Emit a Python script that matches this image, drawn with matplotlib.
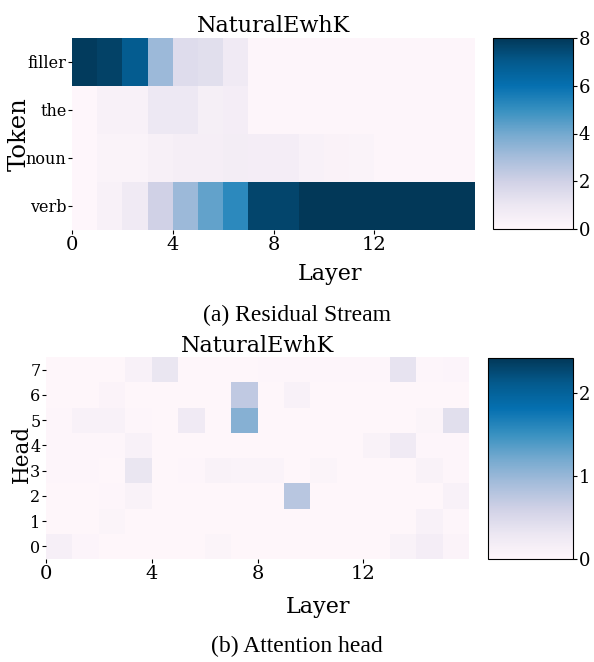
import numpy as np
import matplotlib
matplotlib.use("Agg")
import matplotlib.pyplot as plt

# ---- datos ----
capas = np.arange(17)          # bordes de las 16 capas
tokens = ["verb", "noun", "the", "filler"]   # de abajo hacia arriba
filler = [7.9, 7.7, 6.9, 3.2, 1.5, 1.4, 0.8, 0.1, 0.1, 0.1, 0.1, 0.1, 0.1, 0.1, 0.1, 0.1]
the = [0.05, 0.35, 0.35, 0.95, 0.95, 0.5, 0.6, 0.1, 0.1, 0.1, 0.1, 0.1, 0.1, 0.1, 0.1, 0.1]
noun = [0.05, 0.25, 0.25, 0.45, 0.55, 0.55, 0.65, 0.6, 0.6, 0.4, 0.3, 0.25, 0.15, 0.1, 0.1, 0.1]
verb = [0.05, 0.4, 0.8, 2.0, 3.2, 4.3, 5.2, 7.6, 7.6, 8.0, 8.0, 8.0, 8.0, 8.0, 8.0, 8.0]
residual = np.array([verb, noun, the, filler])

heads = np.arange(8)
# filas = cabeza 0..7, columnas = capa 0..15
atencion = np.array([
    [0.15, 0.05, 0.02, 0.02, 0.02, 0.02, 0.06, 0.02, 0.02, 0.02, 0.02, 0.02, 0.02, 0.1, 0.18, 0.07],
    [0.02, 0.02, 0.06, 0.02, 0.02, 0.02, 0.02, 0.02, 0.02, 0.02, 0.02, 0.02, 0.02, 0.02, 0.12, 0.03],
    [0.02, 0.02, 0.03, 0.1, 0.02, 0.02, 0.02, 0.02, 0.02, 0.78, 0.02, 0.02, 0.02, 0.02, 0.02, 0.12],
    [0.03, 0.03, 0.02, 0.33, 0.02, 0.03, 0.1, 0.08, 0.08, 0.02, 0.06, 0.02, 0.02, 0.02, 0.1, 0.03],
    [0.03, 0.03, 0.03, 0.12, 0.02, 0.02, 0.02, 0.02, 0.02, 0.02, 0.02, 0.02, 0.1, 0.25, 0.03, 0.03],
    [0.03, 0.12, 0.12, 0.03, 0.02, 0.25, 0.02, 1.1, 0.02, 0.02, 0.02, 0.02, 0.02, 0.02, 0.06, 0.42],
    [0.02, 0.02, 0.07, 0.02, 0.02, 0.02, 0.02, 0.72, 0.02, 0.12, 0.02, 0.02, 0.02, 0.02, 0.02, 0.02],
    [0.02, 0.02, 0.02, 0.12, 0.33, 0.02, 0.02, 0.02, 0.04, 0.03, 0.03, 0.03, 0.03, 0.35, 0.03, 0.05],
])
vmax_res = 8
vmax_att = 2.42

plt.rcParams['font.family'] = 'DejaVu Serif'
fig = plt.figure(figsize=(5.94, 6.62), dpi=100)
W, H = 594, 662


def caja(x0, y0, x1, y1):
    return [x0 / W, 1 - y1 / H, (x1 - x0) / W, (y1 - y0) / H]


def estilo(ax, cax):
    for s in ax.spines.values():
        s.set_visible(False)
    ax.set_xticks([0, 4, 8, 12])
    ax.tick_params(axis='x', labelsize=14, length=3, pad=1)
    ax.tick_params(axis='y', labelsize=11.5, length=3, pad=1)
    cax.tick_params(labelsize=13, length=3, pad=1)


# ----Residual Stream----
ax1 = fig.add_axes(caja(72, 38, 475, 230))
cax1 = fig.add_axes(caja(493, 38, 573, 229))
m1 = ax1.pcolormesh(capas, np.arange(5), residual, cmap='PuBu', vmin=0, vmax=vmax_res)
ax1.set_yticks(np.arange(4) + 0.5)
ax1.set_yticklabels(tokens)
ax1.set_title("NaturalEwhK", fontsize=16, pad=4)
ax1.set_ylabel("Token", fontsize=17.5, va='center')
ax1.yaxis.set_label_coords(-0.13, 0.5)
ax1.set_xlabel("Layer", fontsize=16)
ax1.xaxis.set_label_coords(0.64, -0.26)
ax1.xaxis.label.set_va('baseline')
cb1 = fig.colorbar(m1, cax=cax1, ticks=[0, 2, 4, 6, 8])
estilo(ax1, cax1)

# ----Attention head----
ax2 = fig.add_axes(caja(46, 357, 469, 559))
cax2 = fig.add_axes(caja(488, 358, 573, 559))
m2 = ax2.pcolormesh(capas, np.arange(9), atencion, cmap='PuBu', vmin=0, vmax=vmax_att)
ax2.set_yticks(heads + 0.5)
ax2.set_yticklabels([str(h) for h in heads])
ax2.set_title("NaturalEwhK", fontsize=16, pad=1.5)
ax2.set_ylabel("Head", fontsize=15.5, va='center')
ax2.yaxis.set_label_coords(-0.057, 0.52)
ax2.set_xlabel("Layer", fontsize=16)
ax2.xaxis.set_label_coords(0.644, -0.267)
ax2.xaxis.label.set_va('baseline')
cb2 = fig.colorbar(m2, cax=cax2, ticks=[0, 1, 2])
estilo(ax2, cax2)

fig.text(0.5, 1 - 321 / H, "(a) Residual Stream", ha='center', va='baseline',
         family='Liberation Serif', fontsize=17)
fig.text(0.5, 1 - 652 / H, "(b) Attention head", ha='center', va='baseline',
         family='Liberation Serif', fontsize=17)

fig.savefig("out.png", dpi=100)
